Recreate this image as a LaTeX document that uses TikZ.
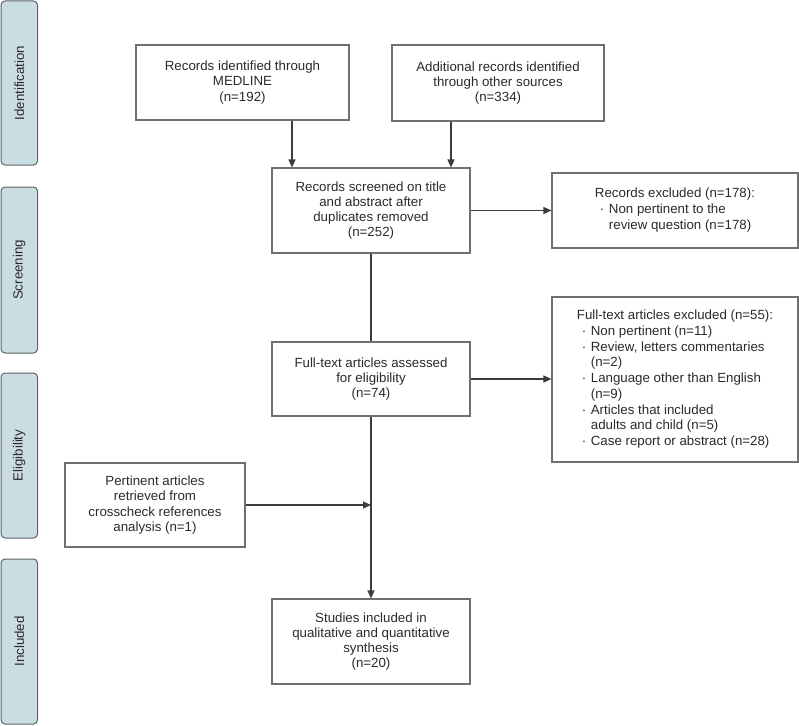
\documentclass[tikz,border=0pt]{standalone}
\usepackage{fontspec}
\setmainfont{Liberation Sans}
\usetikzlibrary{arrows.meta,calc}
\definecolor{barfill}{HTML}{C9DDE3}
\definecolor{barline}{HTML}{5C6466}
\definecolor{boxline}{HTML}{707070}
\definecolor{txt}{HTML}{2A2A2A}
\definecolor{conn}{HTML}{3C3C3C}
\newcommand{\bul}{\makebox[14pt][l]{\hspace{5pt}·}}
\newcommand{\ind}{\hspace*{14pt}}
\begin{document}
\begin{tikzpicture}[x=1pt,y=-1pt,
  every node/.style={font=\fontsize{13.3}{15.2}\selectfont, text=txt, inner sep=0pt},
  box/.style={draw=boxline, line width=1.1pt, align=center},
  bar/.style={draw=barline, fill=barfill, line width=1pt, rounded corners=4pt},
  barlabel/.style={rotate=90},
  arr/.style={draw=conn, line width=1.2pt, -{Triangle[length=8pt,width=7pt]}},
  ln/.style={draw=conn, line width=1.2pt}]
\useasboundingbox (0,0) rectangle (799,725);
% side bars
\path[bar] (1,1) rectangle (37.5,165);
\node[barlabel] (lid) at (19.25,83) {Identification};
\path[bar] (1,187) rectangle (37.5,353);
\node[barlabel] (lsc) at (19.25,270) {Screening};
\path[bar] (1,373) rectangle (37.5,538);
\node[barlabel] (lel) at (19.25,455.5) {Eligibility};
\path[bar] (1,559) rectangle (37.5,724);
\node[barlabel] (lin) at (19.25,641.5) {Included};
% boxes
\node[box, minimum width=213pt, minimum height=75pt] (med) at (242.5,82.5)
  {Records identified through\\MEDLINE\\(n=192)};
\node[box, minimum width=212pt, minimum height=76pt] (oth) at (498,83)
  {Additional records identified\\through other sources\\(n=334)};
\node[box, minimum width=198pt, minimum height=85pt] (scr) at (371,210.5)
  {Records screened on title\\and abstract after\\duplicates removed\\(n=252)};
\node[box, minimum width=246pt, minimum height=75pt] (exa) at (675,210.5)
  {\fontsize{13.3}{16}\selectfont\begin{tabular}{@{}l@{}}Records excluded (n=178):\\\bul Non pertinent to the\\\ind review question (n=178)\end{tabular}};
\node[box, minimum width=198pt, minimum height=74pt] (full) at (371,379)
  {Full-text articles assessed\\for eligibility\\(n=74)};
\node[box, minimum width=246pt, minimum height=165pt] (exb) at (675,379.5)
  {\fontsize{13.3}{15.7}\selectfont\begin{tabular}{@{}l@{}}Full-text articles excluded (n=55):\\
   \bul Non pertinent (n=11)\\
   \bul Review, letters commentaries\\
   \ind (n=2)\\
   \bul Language other than English\\
   \ind (n=9)\\
   \bul Articles that included\\
   \ind adults and child (n=5)\\
   \bul Case report or abstract (n=28)\end{tabular}};
\node[box, minimum width=180pt, minimum height=84pt] (pert) at (155,505)
  {Pertinent articles\\retrieved from\\crosscheck references\\analysis (n=1)};
\node[box, minimum width=198pt, minimum height=85pt] (inc) at (371,641.5)
  {Studies included in\\qualitative and quantitative\\synthesis\\(n=20)};
% connectors
\coordinate (m1) at (292,168);
\coordinate (m2) at (451,168);
\draw[arr] (med.south -| m1) -- (scr.north -| m1);
\draw[arr] (oth.south -| m2) -- (scr.north -| m2);
\draw[arr] (scr.east) -- (exa.west);
\draw[ln] (scr.south) -- (full.north);
\draw[arr] (full.east) -- (exb.west |- full.east);
\draw[arr] (full.south) -- (inc.north);
\draw[arr] (pert.east) -- (pert.east -| full.south);
\end{tikzpicture}
\end{document}
